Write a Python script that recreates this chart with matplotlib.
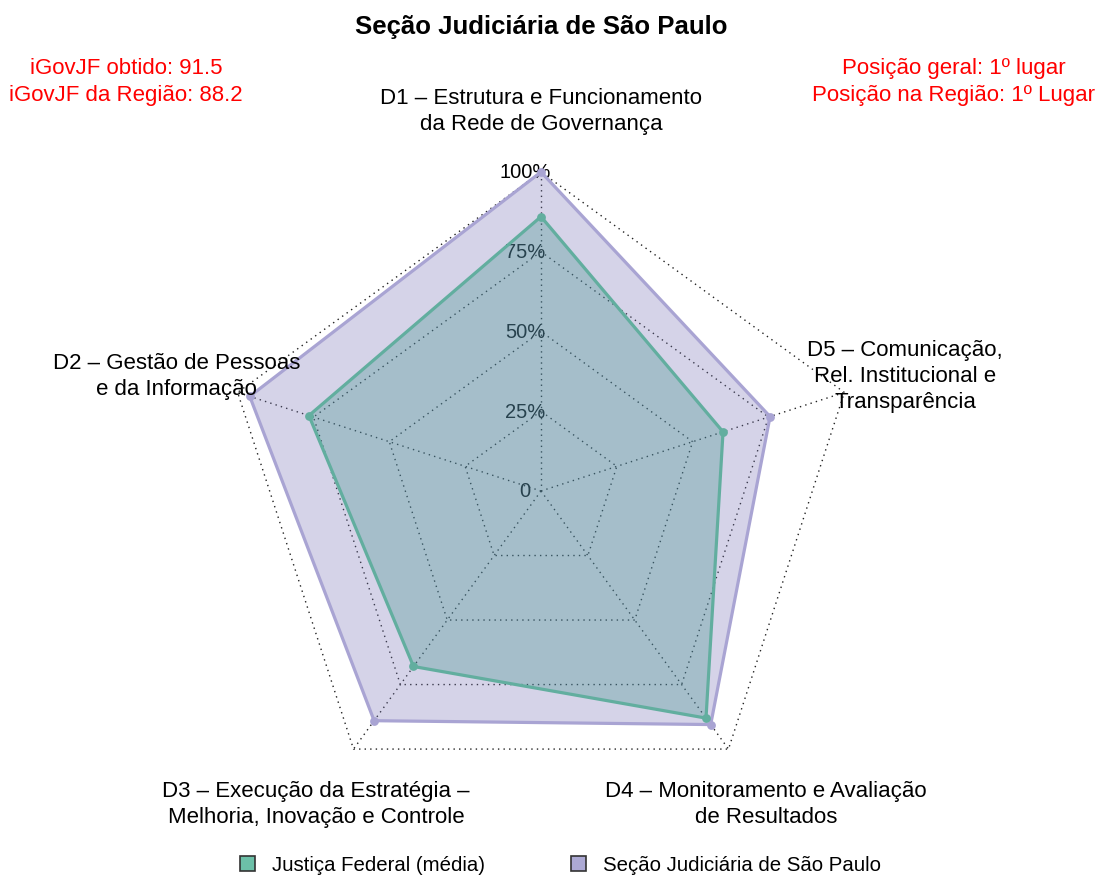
import numpy as np
import matplotlib
matplotlib.use("Agg")
import matplotlib.pyplot as plt
from matplotlib.patches import Patch

plt.rcParams['font.family'] = ['Liberation Sans', 'DejaVu Sans']

# ---- data ----
dimensions = [
    "D1 – Estrutura e Funcionamento\nda Rede de Governança",
    "D2 – Gestão de Pessoas\ne da Informação",
    "D3 – Execução da Estratégia –\nMelhoria, Inovação e Controle",
    "D4 – Monitoramento e Avaliação\nde Resultados",
    "D5 – Comunicação,\nRel. Institucional e\nTransparência",
]
jf_media = [0.86, 0.765, 0.68, 0.88, 0.60]
sjsp = [1.00, 0.96, 0.89, 0.905, 0.755]
series_names = ["Justiça Federal (média)", "Seção Judiciária de São Paulo"]
axis_labels = ["0", "25%", "50%", "75%", "100%"]
title = "Seção Judiciária de São Paulo"
left_info = "iGovJF obtido: 91.5\niGovJF da Região: 88.2"
right_info = "Posição geral: 1º lugar\nPosição na Região: 1º Lugar"

fill_cols = ["#1B9E77", "#7570B3"]
line_cols = ["#62ae9f", "#a9a4d3"]
legend_cols = ["#6cc0a8", "#aca9d4"]

W, H = 1099, 878
cx, cy, R = 541, 492, 319

fig = plt.figure(figsize=(W / 100, H / 100), dpi=100)
ax = fig.add_axes([0, 0, 1, 1])
ax.set_xlim(-cx / R, (W - cx) / R)
ax.set_ylim(-(H - cy) / R, cy / R)
ax.set_aspect('equal')
ax.axis('off')

n = len(dimensions)
ang = np.pi / 2 + 2 * np.pi * np.arange(n) / n
ux, uy = np.cos(ang), np.sin(ang)

# grid
for lvl in [0.25, 0.5, 0.75, 1.0]:
    xs = np.append(ux * lvl, ux[0] * lvl)
    ys = np.append(uy * lvl, uy[0] * lvl)
    ax.plot(xs, ys, ls=(0, (1, 3)), color='#222222', lw=1.0, zorder=1)
for i in range(n):
    ax.plot([0, ux[i]], [0, uy[i]], ls=(0, (1, 3)), color='#222222', lw=1.0, zorder=1)

# axis labels
for i, lab in enumerate(axis_labels):
    ax.text(-0.05, i / 4, lab, ha='center', va='center', fontsize=14.5, color='black', zorder=1)

# polygons (fills)
for vals, col, z in [(jf_media, fill_cols[0], 2), (sjsp, fill_cols[1], 3)]:
    v = np.array(vals)
    ax.fill(ux * v, uy * v, color=col, alpha=0.3, lw=0, zorder=z)

# outlines and points
for vals, col, z in [(sjsp, line_cols[1], 4), (jf_media, line_cols[0], 5)]:
    v = np.array(vals)
    xs = ux * v
    ys = uy * v
    ax.plot(np.append(xs, xs[0]), np.append(ys, ys[0]), color=col, lw=2.3, zorder=z,
            solid_joinstyle='round')
    ax.scatter(xs, ys, s=40, color=col, lw=0, zorder=z)

# dimension labels
for i, lab in enumerate(dimensions):
    ax.text(1.2 * ux[i], 1.2 * uy[i] - 0.008, lab, ha='center', va='center', fontsize=16,
            linespacing=1.32, zorder=6)

fig.text(0.4925, 1 - 27 / H, title, ha='center', va='center', fontsize=18.5, fontweight='bold')
fig.text(126 / W, 1 - 82 / H, left_info, ha='center', va='center', fontsize=16, color='red', linespacing=1.32)
fig.text(954 / W, 1 - 82 / H, right_info, ha='center', va='center', fontsize=16, color='red', linespacing=1.32)

handles = [Patch(facecolor=legend_cols[0], edgecolor='#333333', lw=1.2),
           Patch(facecolor=legend_cols[1], edgecolor='#333333', lw=1.2)]
fig.legend(handles, series_names, loc='center', bbox_to_anchor=(0.5 + 11 / W, 1 - 866 / H), ncol=2,
           frameon=False, fontsize=14.7, handlelength=0.73, handleheight=0.73,
           handletextpad=0.85, columnspacing=4.2)

fig.savefig("out.png", dpi=100)
